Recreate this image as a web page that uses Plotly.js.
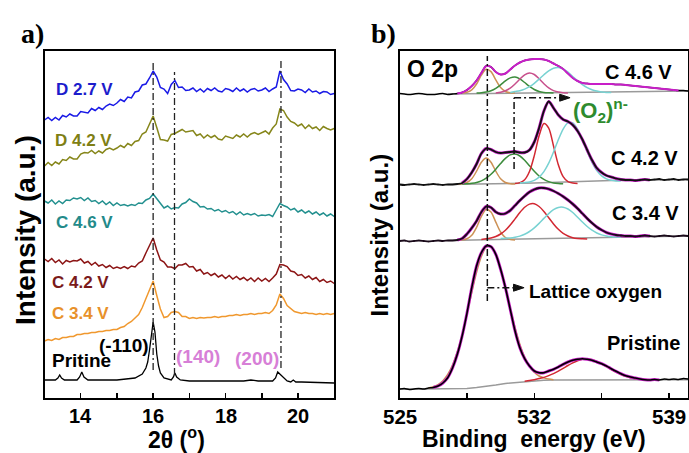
<!DOCTYPE html>
<html><head><meta charset="utf-8">
<script src="https://cdn.plot.ly/plotly-3.0.1.min.js"></script>
<style>html,body{margin:0;padding:0;background:#fff;}#chart{width:689px;height:453px;}</style>
</head><body><div id="chart"></div>
<script>
// ---------- Panel a: XRD ----------
const xrdAngle = [13,13.1,13.2,13.3,13.4,13.5,13.6,13.7,13.8,13.9,14,14.1,14.2,14.3,14.4,14.5,14.6,14.7,14.8,14.9,15,15.1,15.2,15.3,15.4,15.5,15.6,15.7,15.8,15.9,16,16.1,16.2,16.3,16.4,16.5,16.6,16.7,16.8,16.9,17,17.1,17.2,17.3,17.4,17.5,17.6,17.7,17.8,17.9,18,18.1,18.2,18.3,18.4,18.5,18.6,18.7,18.8,18.9,19,19.1,19.2,19.3,19.4,19.5,19.6,19.7,19.8,19.9,20,20.1,20.2,20.3,20.4,20.5,20.6,20.7,20.8,20.9,21];
const xrdD27 = [278,280.5,277.5,280.5,278,282.5,281,284,282,282,286.5,286,285,289.5,287.5,290.5,288.5,292,294,292.5,295,298.5,296.5,301,300,306,307,313,314,320,327,321,310.5,309,304.5,313.5,317.5,310.5,311,307.5,308,310,306.5,309,306,309.5,307.5,310,307,306,309.5,308.5,306.5,310,307,309,306,308.5,309.5,307,308,310,306.5,309,311,327,318.5,314,307.5,307,309,308,305.5,309,306,307,304.5,306.5,306,303.5,304.5];
const xrdD42 = [232,235.5,232.5,236,234,238.5,237.5,241,239,239,244,245.5,245,247.5,244.5,247,245,248.5,250,248,250,252.5,250.5,254.5,252.5,256.5,257.5,264,266,275,282,270.5,258.5,258,257,263.5,264.5,266.5,268.5,266,266.5,267.5,262.5,264,260,263,260.5,262.5,259,258,262,261,259.5,263,261,264,261,264,265.5,263.5,265,267,264,270,274,289,287.5,281,276.5,275,272,274,269.5,273,269.5,271,267.5,271.5,269.5,268,269.5];
const xrdC46 = [197,195,198,194,197,194.5,198,197.5,200,199,200.5,197.5,200,196.5,197.5,194.5,197,193.5,196,192.5,195,192.5,193.5,192,193.5,192.5,195,194.5,198,199.5,204,199.5,194.5,190,192,189,190.5,190,194,195.5,199,196.5,195,191,191.5,189,189.5,187,188.5,186,187.5,185,186.5,183.5,186,183,184.5,183,184.5,182,183,182.5,183.5,181.5,188,194.5,192.5,191,188,189.5,186,188,185,187,184,186,183,185,182,184,181.5];
const xrdC42 = [139,136.5,139.5,135.5,138,134,137.5,136,137.5,137,139,135,136.5,133,135.5,132,133.5,130.5,132.5,129.5,131,129.5,131.5,129.5,132,131,135,137,145,152,160,148,138,136,131,131,129.5,133,133,134.5,131,131.5,127,128.5,124,125.5,122.5,124.5,121,123,119.5,122.5,119,121.5,118.5,120.5,117.5,120,116.5,120,117,119.5,116.5,120,124,133.5,133,131.5,127,126,122.5,123.5,120,122,118.5,120.5,116.5,118.5,115.5,117,114.5];
const xrdC34 = [57,58.5,57.5,59.5,58.5,60.5,60.5,61.5,61.5,63.5,63.5,64.5,64.5,65.5,65.5,66.5,66.5,67.5,67.5,68.5,68.5,70.5,71.5,74.5,76.5,80.5,83.5,90.5,99,107.5,117,102.5,89,80.5,81.5,85.5,86.5,85.5,81.5,81.5,79.5,80.5,79.5,80.5,80,80.5,80.5,81.5,80.5,81.5,81.5,82.5,82.5,83.5,82.5,83.5,83.5,84.5,83.5,84.5,84.5,85.5,84.5,87.5,93,104,99.5,92.5,89.5,86.5,85.5,84.5,85.5,84.5,84.5,83.5,84.5,83.5,84.5,83.5,84.5];
const pristineAngle = [13,13.3,13.37,13.42,13.47,13.55,13.9,13.97,14.03,14.09,14.2,15,15.5,15.7,15.8,15.85,15.9,15.95,16,16.05,16.1,16.15,16.2,16.3,16.5,16.56,16.6,16.65,16.75,17,18,18.5,18.7,18.9,19.3,19.38,19.44,19.5,19.56,19.62,19.7,19.8,19.87,19.94,20.1,21];
const pristineXrd = [18,18,20,23,20,18,18,21,26,21,18,18,20,24,30,36,48,63,76,66,44,32,25,20,18,21,25,21,18,17,17,17,18,17,17,20,26,24,22,19,17,16,18,16,16,15];
const xrdPeakPositions = [16.0, 16.59, 19.53];
const xrdLabels = ['D 2.7 V','D 4.2 V','C 4.6 V','C 4.2 V','C 3.4 V'];
const xrdColors = ['#1a1ae6','#86861a','#23908f','#8c1515','#f0982e'];
const xrdTickVals = [13,14,15,16,17,18,19,20,21];
const xrdTickLabels = [14,16,18,20];

// ---------- Panel b: XPS O 2p ----------
const xpsEnergy = [525,525.25,525.5,525.75,526,526.25,526.5,526.75,527,527.25,527.5,527.75,528,528.25,528.5,528.75,529,529.25,529.5,529.75,530,530.25,530.5,530.75,531,531.25,531.5,531.75,532,532.25,532.5,532.75,533,533.25,533.5,533.75,534,534.25,534.5,534.75,535,535.25,535.5,535.75,536,536.25,536.5,536.75,537,537.25,537.5,537.75,538,538.25,538.5,538.75,539,539.25,539.5,539.75,540];
const xpsC46 = [304.5,304,303.5,304,304.5,304,303.5,303.5,304,304.5,303.5,304,304.5,305.5,308,312,317.5,325,332,331,326,323.5,324.5,328.5,332.5,335.5,337.5,338.5,339,339,338.5,337,334.5,332,329,324.5,320,317,315,314.5,314,314,314,314,314,313.5,313.5,313,312.5,312,311.5,311,310.5,310,309.5,309,308.5,308,307.5,307.5,307];
const xpsC42 = [213.5,213,213.5,214,213.5,213,213.5,214,213.5,213,213.5,213.5,214,215,219,225.5,234,244.5,249.5,248.5,246,245,245.5,246,246.5,245.5,245.5,248,256,270,287,296.5,290,283,278.5,276.5,273,267,258.5,248,238,230,225.5,222.5,221,219.5,218.5,218,218,217.5,218,218.5,218,218.5,219,218,218.5,219,218,218.5,218.5];
const xpsC34 = [157,157.5,156.5,157,157.5,157,156.5,157,157.5,157,157.5,157.5,158,159.5,164,170,177,186,191.5,190.5,186,184,184.5,187.5,192.5,197.5,202,206,208.5,210,210,209,207,204.5,201.5,198,194,189.5,184.5,179.5,175,171,168,165.5,164,163,162.5,162,162,161.5,162,162.5,162,161.5,162,162.5,162,161.5,162,162.5,162];
const xpsPristine = [9,9.5,8.5,9,9.5,9,10,10.5,12,15,20.3,30,43.7,62,84.7,110.3,132,145.3,152,151.3,143.7,128.7,110.3,88.7,67,50.3,39.3,32,27,25.3,25.3,27,28.7,31,33.7,36,37.7,38.7,39.3,38.7,37.7,36,34.3,32,29.3,26.7,24.3,22.3,21,20,19,18.3,18,18.5,18,19,18.5,19,18.5,19.5,19];

const compEnergyC46 = [528,528.25,528.5,528.75,529,529.25,529.5,529.75,530,530.25,530.5,530.75,531,531.25,531.5,531.75,532,532.25,532.5,532.75,533,533.25,533.5,533.75,534,534.25,534.5,534.75,535,535.25,535.5,535.75,536];
const c46Lattice = [null,305,305.7,308.1,314,322.8,328.7,326.4,318.1,310.4,306.5,305.3,305,null,null,null,null,null,null,null,null,null,null,null,null,null,null,null,null,null,null,null,null];
const c46Peroxo = [null,null,null,null,305,305.3,305.9,307.2,309.6,313.1,317.1,320.1,321,319.1,315.5,311.6,308.5,306.5,305.6,305.2,305,null,null,null,null,null,null,null,null,null,null,null,null];
const c46Third = [null,null,null,null,null,null,null,null,305,305.8,307.2,309.8,314,318.9,323.2,325,323.5,319.3,314.3,310.1,307.4,305.9,305.3,305,null,null,null,null,null,null,null,null,null];
const c46Fourth = [null,null,null,null,null,null,null,null,null,null,null,305.5,306.4,307.3,308.9,311.3,314.7,318.9,323.3,327.2,329.8,330.5,329,325.8,321.5,317.2,313.3,310.3,308.2,306.9,306.1,305.6,305.5];

const compEnergy = [528,528.25,528.5,528.75,529,529.25,529.5,529.75,530,530.25,530.5,530.75,531,531.25,531.5,531.75,532,532.25,532.5,532.75,533,533.25,533.5,533.75,534,534.25,534.5,534.75,535,535.25,535.5,535.75,536,536.25,536.5,536.75,537];
const c42Lattice = [214,214.3,215.5,219.2,226.8,235.8,240,235.8,226.8,219.2,215.5,214.3,214,null,null,null,null,null,null,null,null,null,null,null,null,null,null,null,null,null,null,null,null,null,null,null,null];
const c42Peroxo = [null,214,214.3,214.7,215.5,217.1,219.8,223.7,228.8,234.5,239.6,243.1,243.9,242,237.7,232.2,226.7,222,218.6,216.4,215.1,214.5,214.2,null,null,null,null,null,null,null,null,null,null,null,null,null,null];
const c42Third = [null,null,null,null,null,null,null,null,null,null,null,null,214.5,215.4,218.3,226.5,242.4,262.2,274.5,269.9,252,233.2,221.3,216.3,214.9,214.5,null,null,null,null,null,null,null,null,null,null,null];
const c42Fourth = [null,null,null,null,null,null,null,null,null,null,null,null,null,215,215.4,216.1,217.7,220.9,226.4,234.8,246,258.2,268.9,275.1,275.1,268.9,258.4,246.5,235.6,227.4,222.1,219.1,217.7,217.1,217,null,null];
const c34Lattice = [158,158.2,159.3,162.8,170.7,181.6,188.7,186,175.9,166,160.5,158.6,158,null,null,null,null,null,null,null,null,null,null,null,null,null,null,null,null,null,null,null,null,null,null,null,null];
const c34Third = [null,null,null,null,null,158.5,159.2,160,161.5,164,167.7,172.9,179.1,185.4,190.7,193.9,194.3,191.5,186.6,180.3,174.1,168.7,164.6,162,160.3,159.5,159.2,159,null,null,null,null,null,null,null,null,null];
const c34Fourth = [null,null,null,null,null,null,null,null,null,159.5,159.8,160.1,160.8,161.9,163.8,166.5,170.1,174.6,179.6,184.4,188.3,190.6,190.8,189,185.5,180.8,176,171.5,167.8,165,163.1,162,161.3,161,161,null,null];

const compEnergyPristine = [526.5,526.75,527,527.25,527.5,527.75,528,528.25,528.5,528.75,529,529.25,529.5,529.75,530,530.25,530.5,530.75,531,531.25,531.5,531.75,532,532.25,532.5,532.75,533,533.25,533.5,533.75,534,534.25,534.5,534.75,535,535.25,535.5,535.75,536,536.25,536.5,536.75,537,537.25,537.5,537.75,538,538.25,538.5];
const prLattice = [10,11.2,13.4,17.3,23.5,33,46.2,63.4,83.7,105.4,125.7,141.5,150.8,151.5,144.2,129.7,110.7,90,70.5,53.8,40.9,31.7,25.8,22,20.1,18.9,18.3,null,null,null,null,null,null,null,null,null,null,null,null,null,null,null,null,null,null,null,null,null,null];
const prSecond = [null,null,null,null,null,null,null,null,null,null,null,null,null,null,null,null,null,null,null,null,16.8,17.5,18.3,19.4,20.6,22.4,24.4,26.8,29.6,32.5,35.2,37.3,38.7,39,38.2,36.5,34.1,31.3,28.4,25.8,23.5,21.7,20.3,19.4,18.8,18.4,18.2,null,null];

const bgEnergy = [527.5,532,536,540];
const bgC46 = [304,305,306,307];
const bgC42 = [213.5,215,217.5,218.5];
const bgC34 = [157.5,159,161,162];
const bgPrEnergy = [525,528,528.5,529,529.5,530,530.5,531,531.5,532,532.5,533,540];
const bgPristine = [8.7,9,9.5,10.5,11.5,13,14.5,15.5,16.5,17.3,17.8,18,18.3];

const xpsTickVals = [525,528.5,532,535.5,539];
const xpsTickLabels = [525,532,539];
const latticeEnergy = 529.56, peroxoEnergy = 530.95;

// ---------- build ----------
const F = 'Liberation Sans, Arial, sans-serif';
const traces = [];
[xrdD27, xrdD42, xrdC46, xrdC42, xrdC34].forEach((arr,i)=>traces.push({x:xrdAngle,y:arr,type:'scatter',mode:'lines',line:{color:xrdColors[i],width:1.5},xaxis:'x',yaxis:'y'}));
traces.push({x:pristineAngle,y:pristineXrd,type:'scatter',mode:'lines',line:{color:'#000',width:1.3},xaxis:'x',yaxis:'y'});

function L(x,y,color,w,shape){return {x:x,y:y,type:'scatter',mode:'lines',connectgaps:false,line:{color:color,width:w,shape:shape||'spline',smoothing:0.8},xaxis:'x2',yaxis:'y2'};}
const cOr='#cd9155', cGr='#3c8c3c', cRd='#d22832', cCy='#78d2d2', cMg='#c81ec8', cGy='#9a9a9a';
// C 4.6 V
traces.push(L(bgEnergy,bgC46,cGy,1.5,'linear'));
traces.push(L(xpsEnergy,xpsC46,'#000',1.5));
traces.push(L(compEnergyC46,c46Lattice,cOr,1.5));
traces.push(L(compEnergyC46,c46Peroxo,cGr,1.5));
traces.push(L(compEnergyC46,c46Third,'#c8508c',1.5));
traces.push(L(compEnergyC46,c46Fourth,cCy,1.5));
traces.push(L(xpsEnergy.slice(12,59),xpsC46.slice(12,59),cMg,2));
// C 4.2 V
traces.push(L(bgEnergy,bgC42,cGy,1.5,'linear'));
traces.push(L(compEnergy,c42Lattice,cOr,1.5));
traces.push(L(compEnergy,c42Peroxo,cGr,1.5));
traces.push(L(compEnergy,c42Third,cRd,1.5));
traces.push(L(compEnergy,c42Fourth,cCy,1.5));
traces.push(L(xpsEnergy.slice(13,53),xpsC42.slice(13,53),cMg,3));
traces.push(L(xpsEnergy,xpsC42,'#111',1.8));
// C 3.4 V
traces.push(L(bgEnergy,bgC34,cGy,1.5,'linear'));
traces.push(L(compEnergy,c34Lattice,cOr,1.5));
traces.push(L(compEnergy,c34Third,cRd,1.5));
traces.push(L(compEnergy,c34Fourth,cCy,1.5));
traces.push(L(xpsEnergy.slice(12,53),xpsC34.slice(12,53),cMg,3));
traces.push(L(xpsEnergy,xpsC34,'#1a0a1a',1.8));
// Pristine
traces.push(L(bgPrEnergy,bgPristine,cGy,1.5,'linear'));
traces.push(L(compEnergyPristine,prLattice,cOr,1.5));
traces.push(L(compEnergyPristine,prSecond,cRd,1.5));
traces.push(L(xpsEnergy.slice(7,55),xpsPristine.slice(7,55),cMg,3));
traces.push(L(xpsEnergy,xpsPristine,'#000',1.6));

const W=689,H=453;
const px=v=>v/W, py=v=>1-v/H;
const DD='7px,3px,2px,3px';
const shapes=[];
const xrdTops=[338,326,339], xrdBots=[28,23,30];
xrdPeakPositions.forEach((p,i)=>shapes.push({type:'line',xref:'x',yref:'y',x0:p,x1:p,y0:xrdBots[i],y1:xrdTops[i],line:{color:'#222',width:1.3,dash:DD}}));
shapes.push({type:'line',xref:'x2',yref:'y2',x0:latticeEnergy,x1:latticeEnergy,y0:97,y1:342,line:{color:'#111',width:1.5,dash:DD}});
shapes.push({type:'line',xref:'x2',yref:'y2',x0:latticeEnergy,x1:530.95,y0:110.3,y1:110.3,line:{color:'#111',width:1.5,dash:DD}});
shapes.push({type:'path',xref:'x2',yref:'y2',path:'M 531.47,110.3 L 530.92,113.8 L 530.92,106.8 Z',fillcolor:'#111',line:{color:'#111',width:1}});
shapes.push({type:'line',xref:'x2',yref:'y2',x0:peroxoEnergy,x1:peroxoEnergy,y0:229,y1:300.3,line:{color:'#111',width:1.5,dash:DD}});
shapes.push({type:'line',xref:'x2',yref:'y2',x0:peroxoEnergy,x1:533.35,y0:300.3,y1:300.3,line:{color:'#111',width:1.5,dash:DD}});
shapes.push({type:'path',xref:'x2',yref:'y2',path:'M 533.86,300.3 L 533.32,303.8 L 533.32,296.8 Z',fillcolor:'#111',line:{color:'#111',width:1}});

function T(text,x,y,size,color,opts){return Object.assign({text:text,xref:'paper',yref:'paper',x:px(x),y:py(y),showarrow:false,xanchor:'center',yanchor:'middle',borderpad:0,font:{family:F,size:size,color:color||'#000',weight:'bold'}},opts||{});}
const serif={family:'Liberation Serif, Times New Roman, serif',size:28,color:'#000',weight:'bold'};
const ann=[
 T('a)',32,33,28,'#000',{font:serif}),
 T('b)',383,33,28,'#000',{font:serif}),
 T(xrdLabels[0],55,89,17,'#1c1ccc',{xanchor:'left'}),
 T(xrdLabels[1],54,140,17,'#7f7f14',{xanchor:'left'}),
 T(xrdLabels[2],55,222,17,'#238a8a',{xanchor:'left'}),
 T(xrdLabels[3],51,282.5,17,'#7a1a1a',{xanchor:'left'}),
 T(xrdLabels[4],51,313.5,17,'#e8912a',{xanchor:'left'}),
 T('Pritine',81,360,19),
 T('(-110)',124,345,19),
 T('(140)',198,356,19,'#d77fd7'),
 T('(200)',256.5,358,19,'#d77fd7'),
 T('Intensity (a.u.)',25,230,28,'#000',{textangle:-90}),
 T('2θ (<sup>o</sup>)',176,437.5,23),
 T('O 2p',432,69,23),
 T('C 4.6 V',638.5,72,20),
 T('C 4.2 V',644.5,158,20),
 T('C 3.4 V',645,212.7,20),
 T('Pristine',643,343,20),
 T('Lattice oxygen',528,291,19,'#000',{xanchor:'left'}),
 T('(O<sub>2</sub>)<sup>n-</sup>',572,110,22,'#2e8b2e',{xanchor:'left'}),
 T('Intensity (a.u.)',378.5,235,24,'#000',{textangle:-90}),
 T('Binding&nbsp; energy (eV)',534,438.5,23)
];
xrdTickLabels.forEach(v=>ann.push(Object.assign(T(String(v),0,415.5,20),{xref:'x',x:v})));
xpsTickLabels.forEach(v=>ann.push(Object.assign(T(String(v),0,416.5,20.5),{xref:'x2',x:v})));

const axBase={showline:true,mirror:true,linewidth:2,linecolor:'#000',showgrid:false,zeroline:false,fixedrange:true,showticklabels:false};
const layout={
 width:W,height:H,margin:{l:0,r:0,t:0,b:0},paper_bgcolor:'#fff',plot_bgcolor:'#fff',showlegend:false,
 xaxis:Object.assign({},axBase,{domain:[px(44.5),px(334.2)],range:[13,21],tickmode:'array',tickvals:xrdTickVals,ticks:'inside',ticklen:5,tickwidth:1.5,tickcolor:'#000',anchor:'y'}),
 yaxis:Object.assign({},axBase,{domain:[py(398),py(51)],range:[0,347],ticks:'',anchor:'x'}),
 xaxis2:Object.assign({},axBase,{domain:[px(399.6),px(688.2)],range:[525,540],tickmode:'array',tickvals:xpsTickVals,ticks:'inside',ticklen:5,tickwidth:1.5,tickcolor:'#000',anchor:'y2'}),
 yaxis2:Object.assign({},axBase,{domain:[py(398),py(51)],range:[0,347],ticks:'',anchor:'x2'}),
 shapes:shapes,annotations:ann
};
Plotly.newPlot('chart',traces,layout,{staticPlot:true,displayModeBar:false});
</script></body></html>
